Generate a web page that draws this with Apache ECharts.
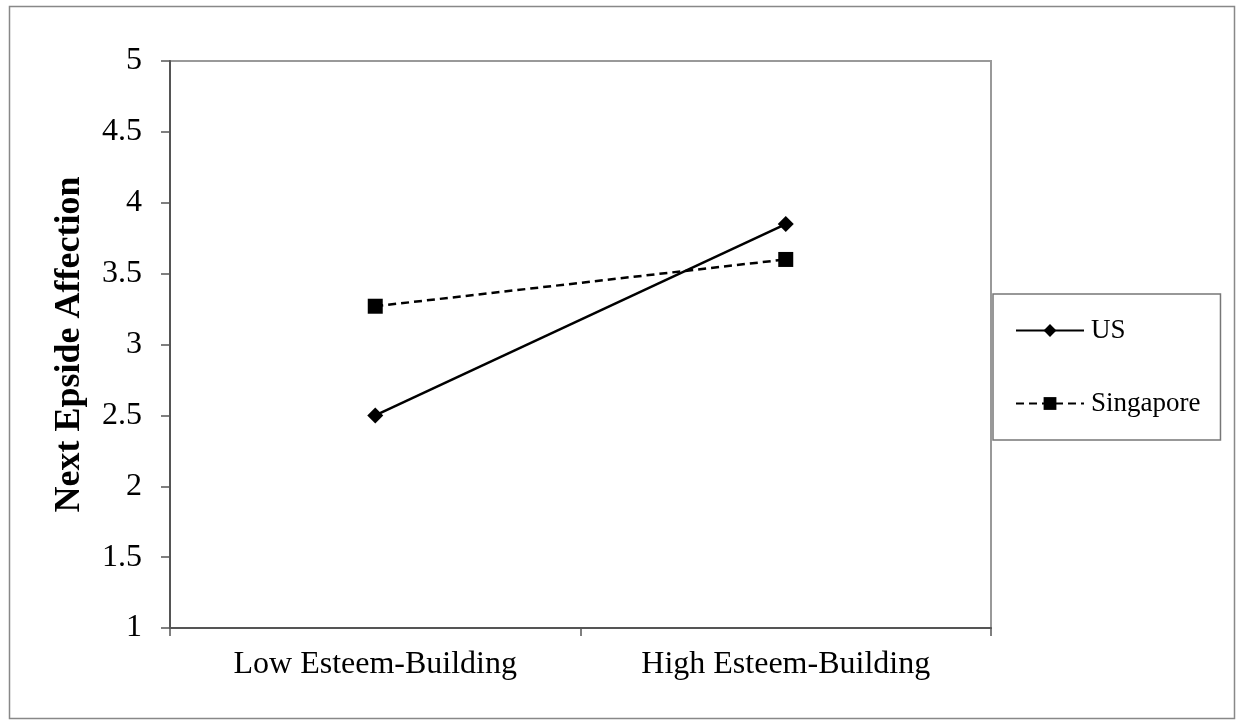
<!DOCTYPE html>
<html>
<head>
<meta charset="utf-8">
<script src="https://cdn.jsdelivr.net/npm/echarts@6/dist/echarts.min.js"></script>
<style>
  html, body { margin: 0; padding: 0; background: #fff; }
  #main { width: 1239px; height: 723px; }
</style>
</head>
<body>
<div id="main"></div>
<script>
// data
const categories = ['Low Esteem-Building', 'High Esteem-Building']
const usValues = [2.5, 3.85]
const singaporeValues = [3.27, 3.6]

const serif = 'Liberation Serif, Times New Roman, serif'

const chart = echarts.init(document.getElementById('main'))

chart.setOption({
  backgroundColor: '#fff',
  animation: false,
  textStyle: { fontFamily: serif, color: '#000' },
  graphic: [
    {
      type: 'rect',
      shape: { x: 9.5, y: 6.5, width: 1225, height: 712 },
      style: { fill: 'none', stroke: '#888', lineWidth: 1.5 },
      silent: true,
    },
  ],
  grid: {
    left: 170,
    right: 248,
    top: 61,
    bottom: 95,
    show: true,
    borderColor: '#999',
    borderWidth: 2,
  },
  legend: {
    orient: 'vertical',
    left: 993,
    top: 294,
    padding: [23, 20, 23, 22],
    itemGap: 46,
    itemWidth: 68,
    itemHeight: 16,
    borderColor: '#777',
    borderWidth: 1.5,
    textStyle: { fontFamily: serif, fontSize: 27, color: '#000', padding: [0, 0, 0, 2] },
    data: ['US', 'Singapore'],
  },
  xAxis: {
    type: 'category',
    data: categories,
    boundaryGap: true,
    axisLine: { lineStyle: { color: '#555', width: 2 } },
    axisTick: { show: true, length: 8, lineStyle: { color: '#555', width: 1.5 } },
    axisLabel: { fontFamily: serif, fontSize: 32, color: '#000', margin: 21 },
  },
  yAxis: {
    type: 'value',
    min: 1,
    max: 5,
    interval: 0.5,
    name: 'Next Epside Affection',
    nameLocation: 'middle',
    nameGap: 82,
    nameTextStyle: { fontFamily: serif, fontSize: 36, fontWeight: 'bold', color: '#000' },
    axisLine: { show: true, lineStyle: { color: '#555', width: 2 } },
    axisTick: { show: true, length: 9, lineStyle: { color: '#555', width: 1.5 } },
    splitLine: { show: false },
    axisLabel: { fontFamily: serif, fontSize: 32, color: '#000', margin: 28 },
  },
  series: [
    {
      name: 'US',
      type: 'line',
      data: usValues,
      symbol: 'diamond',
      symbolSize: 16,
      itemStyle: { color: '#000' },
      lineStyle: { color: '#000', width: 2.5 },
    },
    {
      name: 'Singapore',
      type: 'line',
      data: singaporeValues,
      symbol: 'rect',
      symbolSize: 15,
      itemStyle: { color: '#000' },
      lineStyle: { color: '#000', width: 2.5, type: [8, 5] },
    },
  ],
})
</script>
</body>
</html>
